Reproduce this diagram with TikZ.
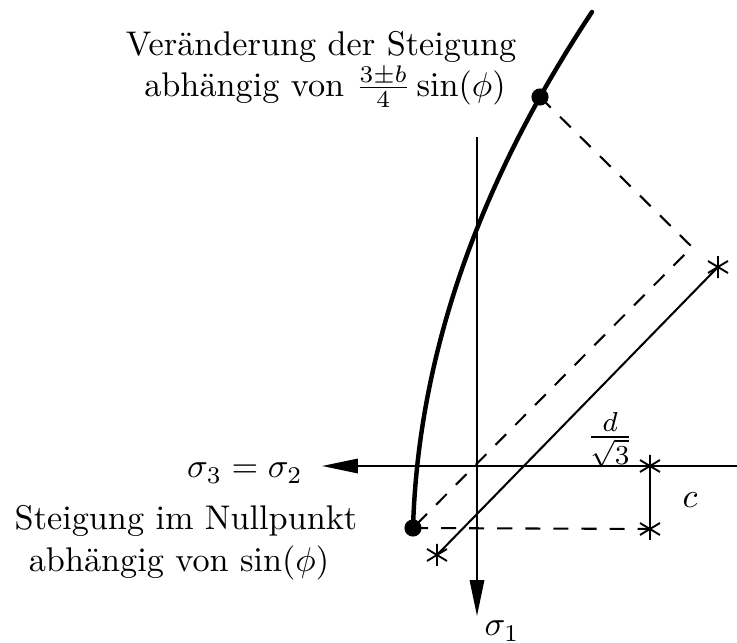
\documentclass[tikz,border=0pt]{standalone}
\usetikzlibrary{arrows.meta}
\begin{document}
\begin{tikzpicture}[x=0.292pt,y=-0.292pt,
  axisline/.style={line width=0.6pt},
  thinaxis/.style={line width=0.35pt},
  curveline/.style={line width=1.3pt},
  dashline/.style={line width=0.6pt,dash pattern=on 4.4pt off 3.8pt},
  solidline/.style={line width=0.6pt},
  arrowtip/.style={-{Triangle[length=10.5pt,width=4.2pt]}},
  dotnode/.style={circle,fill=black,inner sep=0pt,minimum size=5pt},
  lbl/.style={inner sep=0pt,anchor=base},
  astm/.pic={\draw[line width=0.55pt] (0,-11)--(0,11) (-10,-6)--(10,6) (-10,6)--(10,-6);}]
\useasboundingbox (0,0) rectangle (737,643);
% key points
\coordinate (O) at (477,466);
\coordinate (vtop) at (477,137);
\coordinate (vbot) at (477,616);
\coordinate (hright) at (737,466);
\coordinate (hleft) at (322,466);
\coordinate (corner) at (692,247);
\coordinate (cA) at (650,466);
\coordinate (cB) at (650,529);
\coordinate (sA) at (437,555);
\coordinate (sB) at (718,267);
% axes
\draw[thinaxis] (vtop) -- (O);
\draw[axisline,arrowtip] (O) -- (vbot);
\draw[axisline,arrowtip] (hright) -- (hleft);
% thick curve (parabola)
\draw[curveline,line cap=round] plot[domain=0:516,samples=80,variable=\u] ({413+0.03*\u+6.14*(\u/100)*(\u/100)},{528-\u});
\node[dotnode] (dtop) at (540,97) {};
\node[dotnode] (dbot) at (413,528) {};
% dashed construction
\draw[dashline] (dtop.center) -- (corner) -- (dbot.center);
\draw[dashline] (dbot.center) -- (cB);
% solid shifted line
\draw[solidline] (sA) -- (sB);
\pic at (sA) {astm};
\pic at (sB) {astm};
% c dimension
\draw[solidline] (cA) -- (cB);
\pic at (cA) {astm};
\pic at (cB) {astm};
% labels
\node[lbl] (t1) at (321,55) {Veränderung der Steigung};
\node[lbl] (t2) at (325,96) {abhängig von $\frac{3\pm b}{4}\sin(\phi)$};
\node[lbl] (b1) at (186,530) {Steigung im Nullpunkt};
\node[lbl] (b2) at (179,572) {abhängig von\ $\sin(\phi)$};
\node[lbl] (s32) at (245,478) {$\sigma_3=\sigma_2$};
\node[lbl] (s1) at (502,636) {$\sigma_1$};
\node[lbl] (cl) at (690,507) {$c$};
\node[inner sep=0pt,font=\fontsize{12}{14}\selectfont] (dl) at (610,440) {$\frac{d}{\sqrt{3}}$};
\end{tikzpicture}
\end{document}
